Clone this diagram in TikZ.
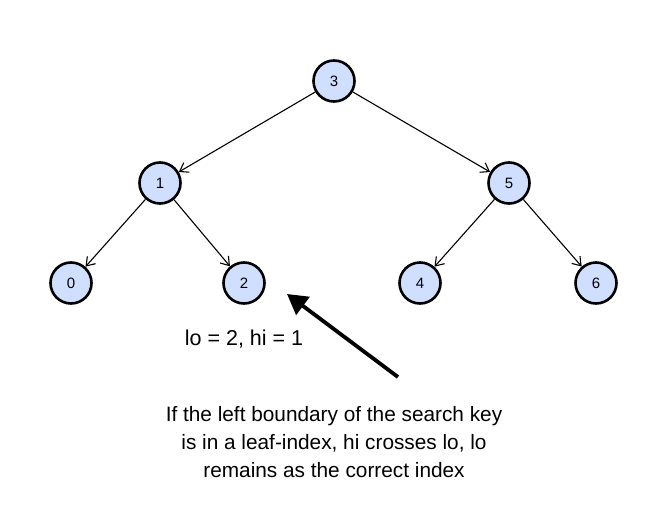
\documentclass[tikz,border=0pt]{standalone}
\usepackage{fontspec}
\setmainfont{Liberation Sans}
\usetikzlibrary{arrows.meta}

\definecolor{vertexblue}{HTML}{D0DEFF}
\tikzset{
  every vertex/.style={circle, draw, line width=2.6pt, fill=vertexblue, minimum size=41pt, inner sep=0pt, font=\fontsize{15}{17}\selectfont},
  every edge/.style={draw, line width=1.1pt, -{Straight Barb[length=8pt,width=11pt]}},
}

\begin{document}
\begin{tikzpicture}[x=1pt, y=-1pt]
\useasboundingbox (0,0) rectangle (669,530);

\foreach \k/\x/\y in {3/334/81, 1/160/183, 5/509/183, 0/71/283, 2/244/283, 4/420/283, 6/596/283}
  \node [every vertex/.try] (vertex-\k) at (\x,\y) {\k};

\foreach \a/\b in {3/1, 3/5, 1/0, 1/2, 5/4, 5/6}
  \path (vertex-\a) edge (vertex-\b);

\node [font=\fontsize{21.5}{26}\selectfont] (bounds) at (244,339) {lo = 2, hi = 1};

\coordinate (pointer-tail) at (398,377);
\coordinate (pointer-head) at (287,294);
\draw [line width=3.8pt, -{Triangle[length=20pt,width=22pt]}] (pointer-tail) -- (pointer-head);

\node [align=center, font=\fontsize{20.8}{28}\selectfont] (note) at (334,442)
  {If the left boundary of the search key \\ is in a leaf-index, hi crosses lo, lo \\ remains as the correct index};

\end{tikzpicture}
\end{document}
